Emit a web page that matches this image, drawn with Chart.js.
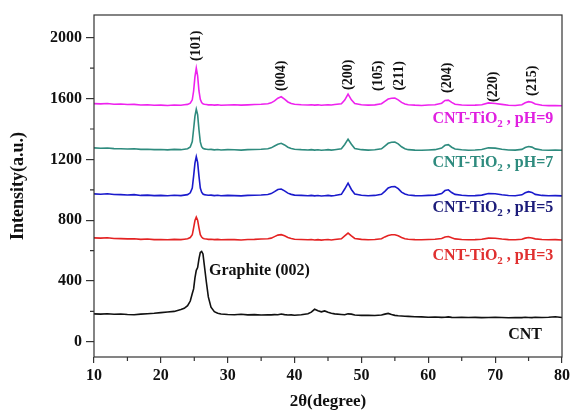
<!DOCTYPE html>
<html>
<head>
<meta charset="utf-8">
<script src="https://cdn.jsdelivr.net/npm/chart.js@4.4.1/dist/chart.umd.min.js"></script>
<style>
  html, body { margin: 0; padding: 0; background: #fff; }
  #xrd { display: block; }
</style>
</head>
<body>
<canvas id="xrd" width="573" height="412"></canvas>
<script>
// 2-theta sampling points (shared by all patterns)
const angles = [
  10, 11, 12, 13, 14, 15, 16, 17, 18, 19,
  20, 21, 22, 23, 23.5, 24, 24.4, 24.7, 24.9, 25.1,
  25.3, 25.5, 25.7, 25.9, 26.1, 26.3, 26.5, 26.8, 27.1, 27.5,
  28, 28.5, 29, 30, 31, 32, 33, 34, 35, 36,
  36.5, 37, 37.5, 38, 38.5, 39, 39.5, 40, 41, 42,
  42.5, 43, 43.5, 44, 44.5, 45, 45.5, 46, 47, 47.5,
  48, 48.5, 49, 50, 51, 52, 53, 53.5, 54, 54.5,
  55, 55.5, 56, 56.5, 57, 58, 59, 60, 61, 62,
  62.5, 63, 63.5, 64, 65, 66, 67, 68, 69, 70,
  71, 72, 73, 74, 74.5, 75, 75.5, 76, 77, 78,
  79, 80
];

const ph9 = [
  1567, 1565, 1568, 1563, 1564, 1561, 1562, 1558, 1560, 1556,
  1557, 1555, 1558, 1556, 1559, 1562, 1570, 1592, 1650, 1745,
  1800, 1750, 1650, 1595, 1574, 1566, 1563, 1561, 1559, 1560,
  1557, 1559, 1556, 1558, 1560, 1557, 1559, 1561, 1563, 1566,
  1572, 1585, 1603, 1612, 1596, 1578, 1568, 1563, 1560, 1558,
  1560, 1557, 1559, 1556, 1558, 1560, 1558, 1561, 1566, 1590,
  1630, 1592, 1568, 1560, 1557, 1559, 1566, 1582, 1597, 1602,
  1603, 1592, 1575, 1565, 1560, 1557, 1555, 1558, 1560, 1570,
  1588, 1590, 1575, 1563, 1558, 1556, 1557, 1560, 1572, 1568,
  1562, 1556, 1555, 1560, 1572, 1580, 1576, 1564, 1556, 1554,
  1555, 1553
];

const ph7 = [
  1276, 1273, 1275, 1271, 1270, 1268, 1270, 1266, 1267, 1264,
  1265, 1263, 1266, 1264, 1267, 1270, 1282, 1318, 1400, 1485,
  1530, 1495, 1395, 1315, 1284, 1273, 1269, 1267, 1265, 1266,
  1263, 1265, 1262, 1264, 1263, 1261, 1264, 1265, 1267, 1270,
  1276, 1288, 1300, 1306, 1295, 1280, 1272, 1267, 1264, 1262,
  1264, 1261, 1263, 1260, 1262, 1264, 1261, 1264, 1270, 1298,
  1333, 1300, 1272, 1264, 1261, 1263, 1270, 1288, 1306, 1313,
  1314, 1302, 1283, 1270, 1264, 1261, 1260, 1262, 1264, 1275,
  1293, 1297, 1280, 1268, 1263, 1260, 1262, 1265, 1276, 1274,
  1267, 1262, 1261, 1266, 1278, 1285, 1281, 1269, 1262, 1260,
  1261, 1260
];

const ph5 = [
  973, 971, 974, 969, 968, 966, 968, 963, 965, 962,
  963, 961, 964, 962, 965, 968, 980, 1012, 1090, 1175,
  1218, 1180, 1090, 1012, 984, 972, 968, 966, 964, 965,
  962, 964, 961, 963, 962, 960, 963, 964, 966, 969,
  975, 988, 1002, 1005, 993, 978, 970, 965, 963, 961,
  963, 960, 962, 959, 961, 963, 960, 963, 970, 1005,
  1044, 1002, 972, 964, 961, 963, 970, 990, 1012, 1020,
  1022, 1008, 985, 972, 966, 962, 961, 963, 965, 975,
  995, 1000, 982, 970, 964, 961, 962, 965, 976, 974,
  967, 962, 961, 967, 980, 988, 983, 970, 963, 961,
  962, 960
];

const ph3 = [
  684, 682, 685, 680, 679, 677, 678, 674, 676, 672,
  673, 671, 674, 672, 675, 678, 686, 704, 750, 798,
  820, 800, 750, 705, 689, 681, 678, 676, 674, 675,
  672, 674, 671, 673, 672, 670, 673, 674, 676, 678,
  682, 692, 702, 705, 697, 686, 680, 675, 673, 671,
  673, 670, 672, 669, 671, 673, 670, 673, 678, 697,
  715, 697, 680, 674, 671, 673, 678, 690, 700, 704,
  704, 697, 686, 678, 675, 672, 671, 673, 675, 680,
  690, 693, 684, 677, 673, 671, 672, 675, 682, 681,
  676, 672, 671, 675, 682, 686, 683, 677, 673, 671,
  672, 670
];

const cnt = [
  184, 182, 185, 181, 183, 180, 178, 182, 185, 188,
  192, 196, 200, 212, 220, 238, 268, 318, 348, 420,
  470, 488, 545, 588, 595, 578, 505, 395, 295, 228,
  198, 188, 183, 180, 178, 181, 177, 179, 176, 178,
  177, 179, 178, 183, 179, 176, 177, 175, 178, 184,
  195, 214, 204, 197, 203, 194, 188, 184, 180, 178,
  184, 182, 176, 174, 175, 173, 176, 182, 187, 180,
  174, 171, 170, 168, 167, 165, 164, 162, 163, 161,
  162, 164, 161, 160, 162, 160, 161, 159, 160, 161,
  160, 158, 160, 159, 161, 160, 159, 161, 160, 162,
  165, 160
];

const xTicks = [10, 20, 30, 40, 50, 60, 70, 80];
const xMinor = [15, 25, 35, 45, 55, 65, 75];
const yTicks = [0, 400, 800, 1200, 1600, 2000];
const yMinor = [200, 600, 1000, 1400, 1800];

// peak indices (rotated labels), placed in data units
const peakLabels = ['(101)', '(004)', '(200)', '(105)', '(211)', '(204)', '(220)', '(215)'];
const peakLabelX = [25.3, 38.0, 48.0, 52.6, 55.7, 62.9, 69.8, 75.5];
const peakLabelY = [1947, 1750, 1757, 1750, 1750, 1737, 1678, 1717];

// sample names, right aligned
const sampleNames = ['pH=9', 'pH=7', 'pH=5', 'pH=3'];
const sampleColors = ['#e020e0', '#2e8b7e', '#1c1c7a', '#e03030'];
const sampleLabelY = [1466, 1178, 882, 566];
const sampleLabelX = 78.7;

const lineColors = ['#ee22ee', '#2e8b7e', '#1a1acc', '#e42222', '#111111'];
const FONT = "'Liberation Serif', 'Times New Roman', serif";

function toPoints(ys) {
  return angles.map((a, i) => ({ x: a, y: ys[i] }));
}

const decor = {
  id: 'decor',
  afterDraw(chart) {
    const { ctx, chartArea: a, scales: { x, y } } = chart;
    ctx.save();
    ctx.strokeStyle = '#333';
    ctx.lineWidth = 1.2;
    ctx.strokeRect(a.left, a.top, a.right - a.left, a.bottom - a.top);

    // minor ticks
    ctx.beginPath();
    xMinor.forEach(v => {
      const px = x.getPixelForValue(v);
      ctx.moveTo(px, a.bottom);
      ctx.lineTo(px, a.bottom + 4);
    });
    yMinor.forEach(v => {
      const py = y.getPixelForValue(v);
      ctx.moveTo(a.left, py);
      ctx.lineTo(a.left - 4, py);
    });
    ctx.stroke();

    // peak labels
    ctx.fillStyle = '#111';
    ctx.font = 'bold 14px ' + FONT;
    ctx.textAlign = 'center';
    ctx.textBaseline = 'middle';
    peakLabels.forEach((t, i) => {
      ctx.save();
      ctx.translate(x.getPixelForValue(peakLabelX[i]), y.getPixelForValue(peakLabelY[i]));
      ctx.rotate(-Math.PI / 2);
      ctx.fillText(t, 0, 0);
      ctx.restore();
    });

    // sample labels with TiO2 subscript
    const big = 'bold 16px ' + FONT;
    const small = 'bold 11px ' + FONT;
    ctx.textAlign = 'left';
    ctx.textBaseline = 'middle';
    sampleNames.forEach((name, i) => {
      const p1 = 'CNT-TiO', p2 = '2', p3 = ' , ' + name;
      ctx.font = big;
      const w1 = ctx.measureText(p1).width, w3 = ctx.measureText(p3).width;
      ctx.font = small;
      const w2 = ctx.measureText(p2).width;
      let px = x.getPixelForValue(sampleLabelX) - (w1 + w2 + w3);
      const py = y.getPixelForValue(sampleLabelY[i]);
      ctx.fillStyle = sampleColors[i];
      ctx.font = big;
      ctx.fillText(p1, px, py);
      px += w1;
      ctx.font = small;
      ctx.fillText(p2, px, py + 5);
      px += w2;
      ctx.font = big;
      ctx.fillText(p3, px, py);
    });

    ctx.fillStyle = '#111';
    ctx.font = big;
    ctx.textAlign = 'left';
    ctx.fillText('Graphite (002)', x.getPixelForValue(27.2), y.getPixelForValue(467));
    ctx.textAlign = 'right';
    ctx.fillText('CNT', x.getPixelForValue(77.0), y.getPixelForValue(46));
    ctx.restore();
  }
};

new Chart(document.getElementById('xrd'), {
  type: 'line',
  data: {
    datasets: [
      { label: 'pH=9', data: toPoints(ph9) },
      { label: 'pH=7', data: toPoints(ph7) },
      { label: 'pH=5', data: toPoints(ph5) },
      { label: 'pH=3', data: toPoints(ph3) },
      { label: 'CNT', data: toPoints(cnt) }
    ].map((d, i) => Object.assign(d, {
      borderColor: lineColors[i],
      borderWidth: 1.6,
      pointRadius: 0,
      tension: 0,
      fill: false
    }))
  },
  options: {
    responsive: false,
    animation: false,
    devicePixelRatio: 1,
    layout: { padding: { top: 15, right: 6, left: 0, bottom: 0 } },
    plugins: { legend: { display: false }, tooltip: { enabled: false } },
    scales: {
      x: {
        type: 'linear',
        min: 10,
        max: 80,
        afterBuildTicks: s => { s.ticks = xTicks.map(v => ({ value: v })); },
        afterFit: s => { s.height = 55; },
        ticks: {
          color: '#111', padding: 3,
          font: { family: FONT, size: 16, weight: 'bold' },
          callback: v => String(v)
        },
        grid: { drawOnChartArea: false, tickLength: 6, color: '#333', lineWidth: 1.2 },
        border: { display: false },
        title: {
          display: true,
          text: '2θ(degree)',
          color: '#111',
          padding: { top: 0, bottom: 0 },
          font: { family: FONT, size: 17, weight: 'bold' }
        }
      },
      y: {
        min: -100,
        max: 2150,
        afterBuildTicks: s => { s.ticks = yTicks.map(v => ({ value: v })); },
        afterFit: s => { s.width = 94; },
        ticks: {
          color: '#111', padding: 4,
          font: { family: FONT, size: 16, weight: 'bold' },
          callback: v => String(v)
        },
        grid: { drawOnChartArea: false, tickLength: 8, color: '#333', lineWidth: 1.2 },
        border: { display: false },
        title: {
          display: true,
          text: 'Intensity(a.u.)',
          color: '#111',
          padding: { top: 8, bottom: 0 },
          font: { family: FONT, size: 18, weight: 'bold' }
        }
      }
    }
  },
  plugins: [decor]
});
</script>
</body>
</html>
